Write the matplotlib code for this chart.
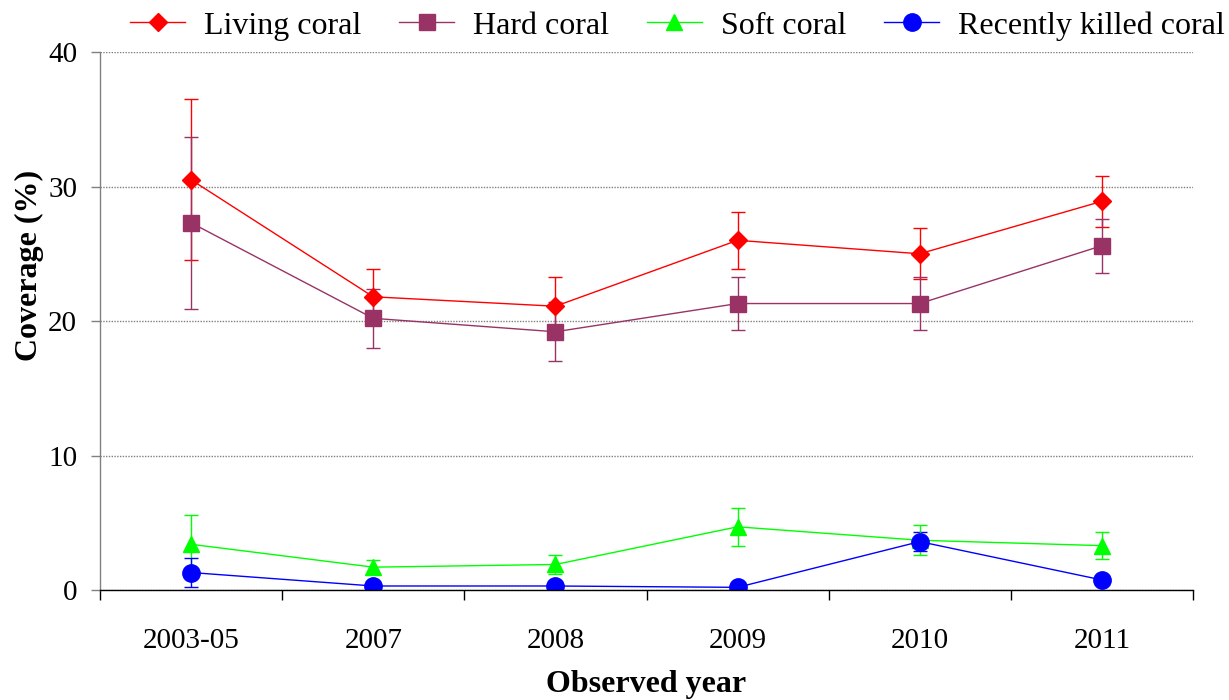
import matplotlib
matplotlib.use("Agg")
import matplotlib.pyplot as plt
import numpy as np
from matplotlib.lines import Line2D
from matplotlib.ticker import FixedLocator

plt.rcParams["font.family"] = ["Liberation Serif", "DejaVu Serif"]

years = ["2003-05", "2007", "2008", "2009", "2010", "2011"]

living = [30.5, 21.8, 21.1, 26.0, 25.0, 28.9]
living_err = [6.0, 2.1, 2.2, 2.1, 1.9, 1.9]
hard = [27.3, 20.2, 19.2, 21.3, 21.3, 25.6]
hard_err = [6.4, 2.2, 2.2, 2.0, 2.0, 2.0]
soft = [3.4, 1.7, 1.9, 4.7, 3.7, 3.3]
soft_err = [2.2, 0.5, 0.7, 1.4, 1.1, 1.0]
killed = [1.3, 0.3, 0.3, 0.2, 3.6, 0.75]
killed_err = [1.1, 0.0, 0.0, 0.0, 0.7, 0.0]

# name, values, errors, colour, marker, marker size
series = [
    ("Living coral", living, living_err, "#FF0000", "D", 9.5),
    ("Hard coral", hard, hard_err, "#993366", "s", 12),
    ("Soft coral", soft, soft_err, "#00FF00", "^", 12),
    ("Recently killed coral", killed, killed_err, "#0000FF", "o", 12.5),
]

fig = plt.figure(figsize=(12.29, 7.0), dpi=100)
ax = fig.add_axes([0.0814, 0.1571, 0.8893, 0.7686])

x = np.arange(len(years))
handles = []
for name, vals, err, col, mk, ms in series:
    ax.errorbar(x, vals, yerr=err, color=col, ecolor=col, elinewidth=1.0,
                capsize=4.7, capthick=1.0, lw=1.0, marker=mk, ms=ms,
                mec=col, mfc=col)
    handles.append(Line2D([], [], color=col, lw=1.0, marker=mk, ms=ms,
                          mec=col, mfc=col))

ax.set_xlim(-0.5, 5.5)
ax.set_ylim(0, 40)
ax.set_yticks([0, 10, 20, 30, 40])
ax.yaxis.grid(True, color="#808080", linestyle=(0, (1, 1)), linewidth=1.0)
ax.set_axisbelow(True)

ax.set_xticks(x)
ax.set_xticklabels(years)
ax.xaxis.set_minor_locator(FixedLocator(np.arange(-0.5, 6.0, 1.0)))
ax.tick_params(axis="x", which="major", length=0, pad=27, labelsize=21)
ax.tick_params(axis="x", which="minor", length=7, width=1.0, color="#000000")
ax.tick_params(axis="y", length=6.5, width=1.0, color="#808080", labelsize=21, pad=10)

for side in ("top", "right"):
    ax.spines[side].set_visible(False)
ax.spines["left"].set_color("#808080")
ax.spines["left"].set_linewidth(1.0)
ax.spines["bottom"].set_color("#000000")
ax.spines["bottom"].set_linewidth(1.0)

ax.set_xlabel("Observed year", fontsize=23, fontweight="bold", labelpad=12)
ax.set_ylabel("Coverage (%)", fontsize=23, fontweight="bold")
ax.yaxis.set_label_coords(-0.051, 0.604)

fig.legend(handles=handles, labels=[s[0] for s in series], loc="center",
           bbox_to_anchor=(0.5513, 0.963), ncol=4, frameon=False, fontsize=23,
           handlelength=1.7, columnspacing=1.2, handletextpad=0.6,
           borderaxespad=0.0, borderpad=0.0)

fig.savefig("out.png", dpi=100)
